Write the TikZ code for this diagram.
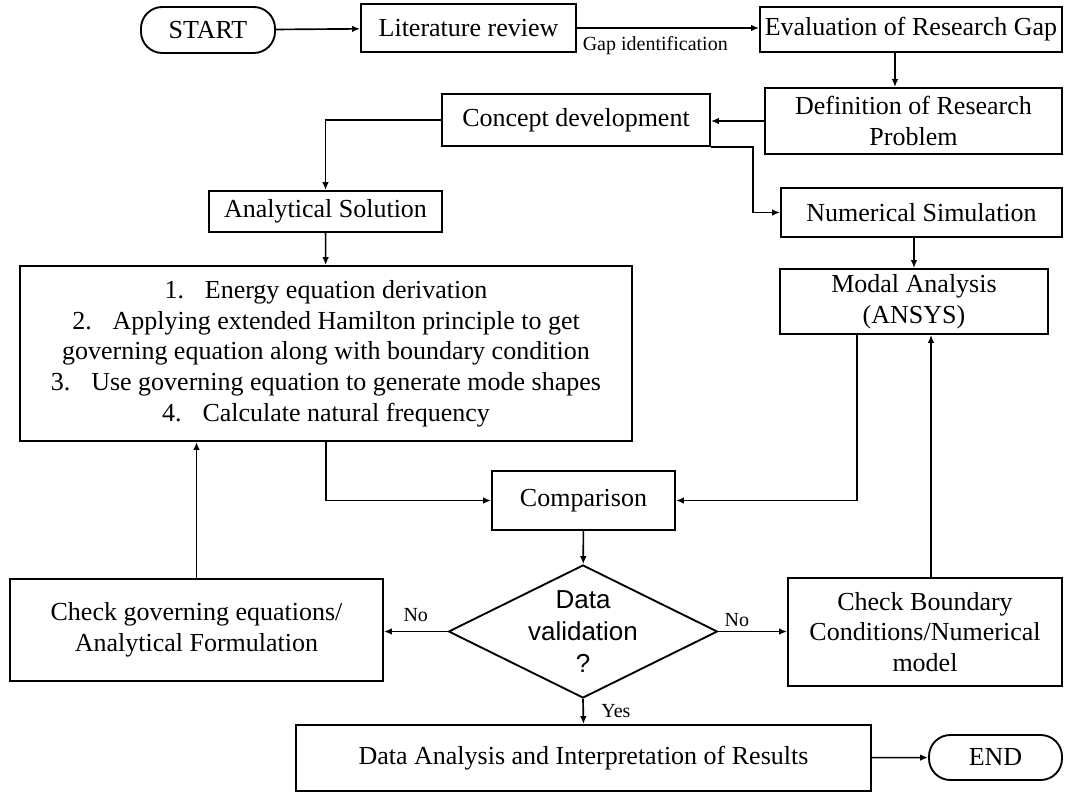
\documentclass[tikz,border=0pt]{standalone}
\usepackage{fontspec}
\setmainfont{Liberation Serif}
\newfontfamily\arialfont{Liberation Sans}
\usetikzlibrary{arrows.meta, positioning, shapes.geometric, calc}

\begin{document}
\begin{tikzpicture}[x=0.75pt, y=-0.75pt,
  every node/.style={font=\fontsize{19.5}{23}\selectfont},
  wh/.style 2 args={minimum width=#1*0.75pt, minimum height=#2*0.75pt},
  box/.style={draw, line width=1.4pt, align=center, inner sep=0pt},
  term/.style={box, rounded corners=16pt},
  lbl/.style={font=\fontsize{15}{17}\selectfont, inner sep=1pt},
  flow/.style={-{Latex[length=6pt,width=5pt]}, line width=1.25pt}]
  \useasboundingbox (0,0) rectangle (1065,799);

  % top row
  \node[term, wh={134}{46}] (start) at (208,30) {START};
  \node[box, wh={215}{48}] (lit) at (468.5,28) {Literature review};
  \node[box, wh={302}{45}] (eval) at (911,29.5) {Evaluation of Research Gap};
  \node[box, wh={297}{66}] (def) at (913.5,121) {Definition of Research\\Problem};
  \node[box, wh={268}{52}] (concept) at (576,120) {Concept development};

  % two branches
  \node[box, wh={233}{41}] (anal) at (325.5,211.5) {Analytical Solution};
  \node[box, wh={281}{49}] (num) at (921.5,212.5) {Numerical Simulation};
  \node[box, wh={268}{65}] (modal) at (914,301.5) {Modal Analysis\\(ANSYS)};
  \node[box, wh={612}{175}] (big) at (326,353.5)
    {1.\hspace{0.8em}Energy equation derivation\\
     2.\hspace{0.8em}Applying extended Hamilton principle to get\\
     governing equation along with boundary condition\\
     3.\hspace{0.8em}Use governing equation to generate mode shapes\\
     4.\hspace{0.8em}Calculate natural frequency};

  % validation loop
  \node[box, wh={183}{59}] (comp) at (583.5,500.5) {Comparison};
  \node[diamond, draw, line width=1.4pt, wh={269}{133}, inner sep=0pt] (dia) at (583,631.5) {};
  \node[align=center, font=\arialfont\fontsize{19.5}{24}\selectfont] (diatext) at (dia) {Data\\validation\\?};
  \node[box, wh={373}{102}] (chkg) at (196.5,630) {Check governing equations/\\Analytical Formulation};
  \node[box, wh={274}{108}] (chkb) at (925,632) {Check Boundary\\Conditions/Numerical\\model};
  \node[box, wh={575}{66}] (result) at (583.5,758) {Data Analysis and Interpretation of Results};
  \node[term, wh={133}{45}] (end) at (995.5,757.5) {END};

  % connectors
  \draw[flow] (start) -- (lit);
  \draw[flow] (lit.east) -- (lit.east -| eval.west)
    node[lbl, pos=0.43, below=5pt] (gaplbl) {Gap identification};
  \draw[flow] ([xshift=-12pt]eval.south) -- ([xshift=-12pt]eval.south |- def.north);
  \draw[flow] (def.west) -- (def.west -| concept.east);
  \draw[flow] (concept.west) -| (anal.north);
  \draw[flow] (concept.south east) -- ++(42,0) |- (num.west);
  \draw[flow] (modal.north |- num.south) -- (modal.north);
  \draw[flow] (anal) -- (big);
  \draw[flow] (big.south) |- (comp.west);
  \draw[flow] ([xshift=-42.75pt]modal.south) |- (comp.east);
  \draw[flow] (comp) -- (dia);
  \draw[flow] (dia.west) -- (dia.west -| chkg.east) node[lbl, midway, above=6pt] (nol) {No};
  \draw[flow] (dia.east) -- (dia.east -| chkb.west) node[lbl, pos=0.27, above=2pt] (nor) {No};
  \draw[flow] (dia.south) -- (result.north) node[lbl, midway, right=12pt] (yes) {Yes};
  \draw[flow] (chkg.north) -- (chkg.north |- big.south);
  \draw[flow] ([xshift=4.5pt]chkb.north) -- ([xshift=4.5pt]chkb.north |- modal.south);
  \draw[flow] (result) -- (end);
\end{tikzpicture}
\end{document}
